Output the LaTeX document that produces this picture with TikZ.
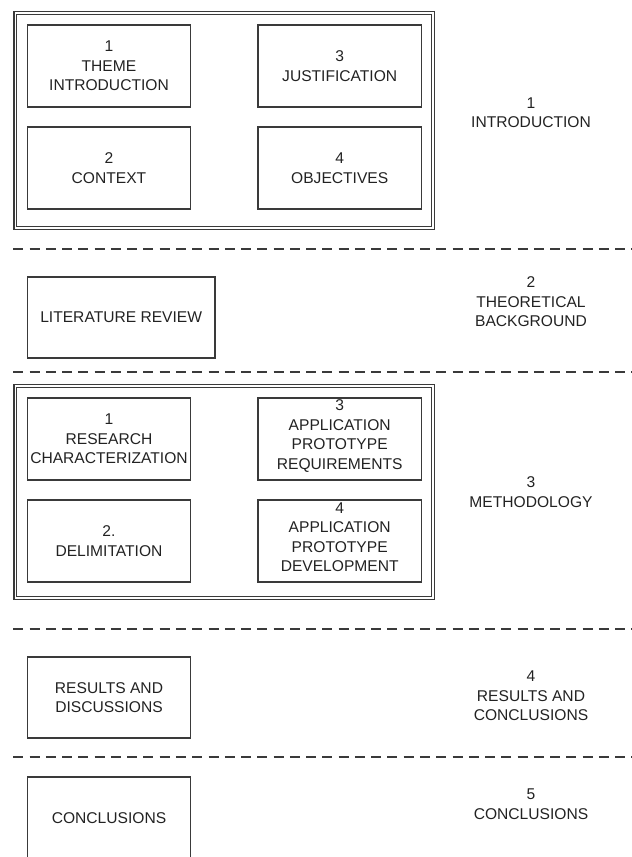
\documentclass[tikz,border=0pt]{standalone}
\usepackage{fontspec}
\setmainfont{Liberation Sans}
\usetikzlibrary{positioning}
\definecolor{linec}{HTML}{3A3A3A}
\definecolor{textc}{HTML}{222222}
\tikzset{
  txt/.style={text=textc, align=center, inner sep=0pt,
    font=\fontsize{11.7}{14.6}\selectfont},
  stepbox/.style={txt, draw=linec, line width=0.95pt,
    minimum width=122.5pt, minimum height=61.5pt},
  widebox/.style={stepbox, minimum width=140.6pt, minimum height=60.8pt},
  groupbox/.style={draw=linec, line width=0.8pt, double, double distance=1.2pt,
    minimum width=313.3pt, inner sep=0pt},
  divider/.style={draw=linec, line width=1.6pt, dash pattern=on 7.5pt off 4.7pt},
  chapter/.style={txt}
}
\begin{document}
\begin{tikzpicture}[x=0.75pt, y=-0.75pt]
\useasboundingbox (0,0) rectangle (632,857);

% chapter 1: introduction
\node[groupbox, minimum height=161.1pt] (g1) at (224.2,120.6) {};
\node[stepbox] (theme) at (109,66) {1\\THEME\\INTRODUCTION};
\node[stepbox] (context) at (109,168) {2\\CONTEXT};
\node[stepbox] (just) at (339.7,66) {3\\JUSTIFICATION};
\node[stepbox] (obj) at (339.7,168) {4\\OBJECTIVES};
\node[chapter] (c1) at (531,112.5) {1\\INTRODUCTION};

% separators
\coordinate (d1a) at (13.3,249);  \coordinate (d1b) at (640,249);
\coordinate (d2a) at (13.3,372);  \coordinate (d2b) at (640,372);
\coordinate (d3a) at (13.3,629);  \coordinate (d3b) at (640,629);
\coordinate (d4a) at (13.3,757);  \coordinate (d4b) at (640,757);
\draw[divider] (d1a) -- (d1b);
\draw[divider] (d2a) -- (d2b);
\draw[divider] (d3a) -- (d3b);
\draw[divider] (d4a) -- (d4b);

% chapter 2: theoretical background
\node[widebox] (lit) at (121.2,317.5) {LITERATURE REVIEW};
\node[chapter] (c2) at (531,302) {2\\THEORETICAL\\BACKGROUND};

% chapter 3: methodology
\node[groupbox, minimum height=158.9pt] (g3) at (224.2,492.1) {};
\node[stepbox] (research) at (109,439) {1\\RESEARCH\\CHARACTERIZATION};
\node[stepbox] (delim) at (109,541) {2.\\DELIMITATION};
\node[stepbox] (req) at (339.7,439) {};
\node[txt] (reqt) at (339.7,436) {3\\APPLICATION\\PROTOTYPE\\REQUIREMENTS};
\node[stepbox] (dev) at (339.7,541) {};
\node[txt] (devt) at (339.7,537) {4\\APPLICATION\\PROTOTYPE\\DEVELOPMENT};
\node[chapter] (c3) at (531,492) {3\\METHODOLOGY};

% chapter 4: results
\node[stepbox, minimum height=60.8pt] (res) at (109,697.5) {RESULTS AND\\DISCUSSIONS};
\node[chapter] (c4) at (531,696) {4\\RESULTS AND\\CONCLUSIONS};

% chapter 5: conclusions
\node[stepbox] (conc) at (109,818) {CONCLUSIONS};
\node[chapter] (c5) at (531,804) {5\\CONCLUSIONS};
\end{tikzpicture}
\end{document}
